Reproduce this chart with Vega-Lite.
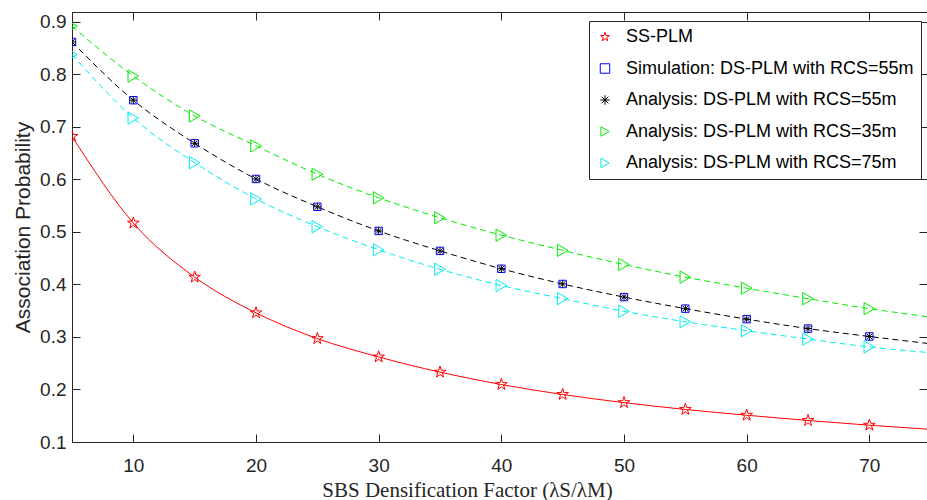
{
  "$schema": "https://vega.github.io/schema/vega-lite/v6.json",
  "width": 855,
  "height": 430,
  "autosize": {"type": "none"},
  "padding": {"left": 72, "top": 12, "right": 0, "bottom": 58},
  "background": "white",
  "config": {
    "view": {"stroke": "#262626", "strokeWidth": 1},
    "font": "Liberation Sans",
    "axis": {
      "grid": false,
      "domainColor": "#262626",
      "tickColor": "#262626",
      "labelColor": "#262626",
      "labelFont": "Liberation Sans",
      "labelFontSize": 19,
      "tickSize": -8,
      "titleColor": "#262626",
      "titleFontWeight": "normal"
    },
    "legend": {
      "orient": "none",
      "legendX": 517,
      "legendY": 9,
      "strokeColor": "#262626",
      "fillColor": "white",
      "padding": 7,
      "rowPadding": 13.5,
      "labelFont": "Liberation Sans",
      "labelFontSize": 18,
      "labelColor": "#000000",
      "labelLimit": 0,
      "symbolSize": 90,
      "symbolStrokeWidth": 1,
      "labelOffset": 12,
      "cornerRadius": 0
    }
  },
  "datasets": {
    "curves": [
      {"x": 5, "y": 0.682, "s": "SS-PLM"},
      {"x": 10, "y": 0.517, "s": "SS-PLM"},
      {"x": 15, "y": 0.414, "s": "SS-PLM"},
      {"x": 20, "y": 0.346, "s": "SS-PLM"},
      {"x": 25, "y": 0.297, "s": "SS-PLM"},
      {"x": 30, "y": 0.262, "s": "SS-PLM"},
      {"x": 35, "y": 0.233, "s": "SS-PLM"},
      {"x": 40, "y": 0.2095, "s": "SS-PLM"},
      {"x": 45, "y": 0.1905, "s": "SS-PLM"},
      {"x": 50, "y": 0.175, "s": "SS-PLM"},
      {"x": 55, "y": 0.162, "s": "SS-PLM"},
      {"x": 60, "y": 0.151, "s": "SS-PLM"},
      {"x": 65, "y": 0.141, "s": "SS-PLM"},
      {"x": 70, "y": 0.132, "s": "SS-PLM"},
      {"x": 75, "y": 0.124, "s": "SS-PLM"},
      {"x": 5, "y": 0.862, "s": "Simulation: DS-PLM with RCS=55m"},
      {"x": 10, "y": 0.751, "s": "Simulation: DS-PLM with RCS=55m"},
      {"x": 15, "y": 0.669, "s": "Simulation: DS-PLM with RCS=55m"},
      {"x": 20, "y": 0.601, "s": "Simulation: DS-PLM with RCS=55m"},
      {"x": 25, "y": 0.548, "s": "Simulation: DS-PLM with RCS=55m"},
      {"x": 30, "y": 0.502, "s": "Simulation: DS-PLM with RCS=55m"},
      {"x": 35, "y": 0.464, "s": "Simulation: DS-PLM with RCS=55m"},
      {"x": 40, "y": 0.430, "s": "Simulation: DS-PLM with RCS=55m"},
      {"x": 45, "y": 0.401, "s": "Simulation: DS-PLM with RCS=55m"},
      {"x": 50, "y": 0.376, "s": "Simulation: DS-PLM with RCS=55m"},
      {"x": 55, "y": 0.354, "s": "Simulation: DS-PLM with RCS=55m"},
      {"x": 60, "y": 0.334, "s": "Simulation: DS-PLM with RCS=55m"},
      {"x": 65, "y": 0.316, "s": "Simulation: DS-PLM with RCS=55m"},
      {"x": 70, "y": 0.301, "s": "Simulation: DS-PLM with RCS=55m"},
      {"x": 5, "y": 0.862, "s": "Analysis: DS-PLM with RCS=55m"},
      {"x": 10, "y": 0.751, "s": "Analysis: DS-PLM with RCS=55m"},
      {"x": 15, "y": 0.669, "s": "Analysis: DS-PLM with RCS=55m"},
      {"x": 20, "y": 0.601, "s": "Analysis: DS-PLM with RCS=55m"},
      {"x": 25, "y": 0.548, "s": "Analysis: DS-PLM with RCS=55m"},
      {"x": 30, "y": 0.502, "s": "Analysis: DS-PLM with RCS=55m"},
      {"x": 35, "y": 0.464, "s": "Analysis: DS-PLM with RCS=55m"},
      {"x": 40, "y": 0.430, "s": "Analysis: DS-PLM with RCS=55m"},
      {"x": 45, "y": 0.401, "s": "Analysis: DS-PLM with RCS=55m"},
      {"x": 50, "y": 0.376, "s": "Analysis: DS-PLM with RCS=55m"},
      {"x": 55, "y": 0.354, "s": "Analysis: DS-PLM with RCS=55m"},
      {"x": 60, "y": 0.334, "s": "Analysis: DS-PLM with RCS=55m"},
      {"x": 65, "y": 0.316, "s": "Analysis: DS-PLM with RCS=55m"},
      {"x": 70, "y": 0.301, "s": "Analysis: DS-PLM with RCS=55m"},
      {"x": 75, "y": 0.287, "s": "Analysis: DS-PLM with RCS=55m"},
      {"x": 5, "y": 0.892, "s": "Analysis: DS-PLM with RCS=35m"},
      {"x": 10, "y": 0.797, "s": "Analysis: DS-PLM with RCS=35m"},
      {"x": 15, "y": 0.721, "s": "Analysis: DS-PLM with RCS=35m"},
      {"x": 20, "y": 0.664, "s": "Analysis: DS-PLM with RCS=35m"},
      {"x": 25, "y": 0.610, "s": "Analysis: DS-PLM with RCS=35m"},
      {"x": 30, "y": 0.565, "s": "Analysis: DS-PLM with RCS=35m"},
      {"x": 35, "y": 0.527, "s": "Analysis: DS-PLM with RCS=35m"},
      {"x": 40, "y": 0.494, "s": "Analysis: DS-PLM with RCS=35m"},
      {"x": 45, "y": 0.465, "s": "Analysis: DS-PLM with RCS=35m"},
      {"x": 50, "y": 0.438, "s": "Analysis: DS-PLM with RCS=35m"},
      {"x": 55, "y": 0.414, "s": "Analysis: DS-PLM with RCS=35m"},
      {"x": 60, "y": 0.393, "s": "Analysis: DS-PLM with RCS=35m"},
      {"x": 65, "y": 0.373, "s": "Analysis: DS-PLM with RCS=35m"},
      {"x": 70, "y": 0.354, "s": "Analysis: DS-PLM with RCS=35m"},
      {"x": 75, "y": 0.338, "s": "Analysis: DS-PLM with RCS=35m"},
      {"x": 5, "y": 0.838, "s": "Analysis: DS-PLM with RCS=75m"},
      {"x": 10, "y": 0.717, "s": "Analysis: DS-PLM with RCS=75m"},
      {"x": 15, "y": 0.632, "s": "Analysis: DS-PLM with RCS=75m"},
      {"x": 20, "y": 0.563, "s": "Analysis: DS-PLM with RCS=75m"},
      {"x": 25, "y": 0.510, "s": "Analysis: DS-PLM with RCS=75m"},
      {"x": 30, "y": 0.466, "s": "Analysis: DS-PLM with RCS=75m"},
      {"x": 35, "y": 0.429, "s": "Analysis: DS-PLM with RCS=75m"},
      {"x": 40, "y": 0.398, "s": "Analysis: DS-PLM with RCS=75m"},
      {"x": 45, "y": 0.373, "s": "Analysis: DS-PLM with RCS=75m"},
      {"x": 50, "y": 0.349, "s": "Analysis: DS-PLM with RCS=75m"},
      {"x": 55, "y": 0.329, "s": "Analysis: DS-PLM with RCS=75m"},
      {"x": 60, "y": 0.312, "s": "Analysis: DS-PLM with RCS=75m"},
      {"x": 65, "y": 0.296, "s": "Analysis: DS-PLM with RCS=75m"},
      {"x": 70, "y": 0.281, "s": "Analysis: DS-PLM with RCS=75m"},
      {"x": 75, "y": 0.270, "s": "Analysis: DS-PLM with RCS=75m"}
    ]
  },
  "data": {"name": "curves"},
  "layer": [
    {
      "transform": [{"filter": "datum.s === 'SS-PLM'"}],
      "mark": {"type": "line", "strokeWidth": 1, "interpolate": "monotone", "clip": true},
      "encoding": {
        "x": {"field": "x", "type": "quantitative", "scale": {"domain": [5, 74.7], "nice": false, "zero": false},
              "axis": {"orient": "bottom", "values": [10, 20, 30, 40, 50, 60, 70], "labelPadding": 22, "title": "SBS Densification Factor (λS/λM)", "titleFont": "Liberation Serif", "titleFontSize": 21, "titlePadding": 4, "titleX": 395}},
        "y": {"field": "y", "type": "quantitative", "scale": {"domain": [0.1, 0.919], "nice": false, "zero": false},
              "axis": {"orient": "left", "values": [0.1, 0.2, 0.3, 0.4, 0.5, 0.6, 0.7, 0.8, 0.9], "format": ".1f", "labelPadding": 14, "title": "Association Probability", "titleFont": "Liberation Sans", "titleFontSize": 21, "titlePadding": 6}},
        "color": {"field": "s", "type": "nominal",
                  "scale": {"domain": ["SS-PLM", "Simulation: DS-PLM with RCS=55m", "Analysis: DS-PLM with RCS=55m", "Analysis: DS-PLM with RCS=35m", "Analysis: DS-PLM with RCS=75m"],
                            "range": ["#ff0000", "#0000ff", "#000000", "#00ee00", "#00eeee"]}}
      }
    },
    {
      "transform": [{"filter": "datum.s !== 'SS-PLM' && datum.s !== 'Simulation: DS-PLM with RCS=55m'"}],
      "mark": {"type": "line", "strokeWidth": 1, "strokeDash": [6, 4], "interpolate": "monotone", "clip": true},
      "encoding": {
        "x": {"field": "x", "type": "quantitative", "axis": null},
        "y": {"field": "y", "type": "quantitative", "axis": null},
        "color": {"field": "s", "type": "nominal"}
      }
    },
    {
      "transform": [{"filter": "datum.x <= 70"}],
      "mark": {"type": "point", "filled": false, "strokeWidth": 1, "opacity": 1, "clip": true},
      "encoding": {
        "x": {"field": "x", "type": "quantitative", "axis": {"orient": "top", "values": [10, 20, 30, 40, 50, 60, 70], "labels": false, "title": null}},
        "y": {"field": "y", "type": "quantitative", "axis": {"orient": "right", "values": [0.1, 0.2, 0.3, 0.4, 0.5, 0.6, 0.7, 0.8, 0.9], "labels": false, "title": null}},
        "color": {"field": "s", "type": "nominal", "legend": {"title": null}},
        "shape": {"field": "s", "type": "nominal", "legend": {"title": null},
                  "scale": {"domain": ["SS-PLM", "Simulation: DS-PLM with RCS=55m", "Analysis: DS-PLM with RCS=55m", "Analysis: DS-PLM with RCS=35m", "Analysis: DS-PLM with RCS=75m"],
                            "range": ["M0,-1L0.2233,-0.3074L0.9511,-0.309L0.3614,0.1174L0.5878,0.809L0,0.38L-0.5878,0.809L-0.3614,0.1174L-0.9511,-0.309L-0.2233,-0.3074Z", "square", "M-1,0L1,0M0,-1L0,1M-0.7,-0.7L0.7,0.7M-0.7,0.7L0.7,-0.7", "triangle-right", "triangle-right"]}},
        "size": {"condition": [
                   {"test": "datum.s === 'SS-PLM'", "value": 150},
                   {"test": "datum.s === 'Simulation: DS-PLM with RCS=55m'", "value": 55},
                   {"test": "datum.s === 'Analysis: DS-PLM with RCS=55m'", "value": 60}
                 ], "value": 150}
      }
    }
  ],
  "resolve": {"axis": {"x": "independent", "y": "independent"}}
}
